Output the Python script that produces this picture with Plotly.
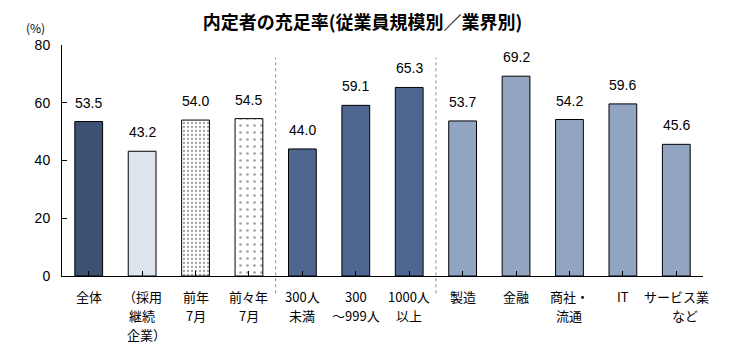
import plotly.graph_objects as go

categories = ["全体", "（採用|継続|企業）", "前年|7月", "前々年|7月", "300人|未満",
              "300|～999人", "1000人|以上", "製造", "金融", "商社・|流通", "IT", "サービス業|など"]
values = [53.5, 43.2, 54.0, 54.5, 44.0, 59.1, 65.3, 53.7, 69.2, 54.2, 59.6, 45.6]
value_labels = ["53.5", "43.2", "54.0", "54.5", "44.0", "59.1", "65.3", "53.7", "69.2", "54.2", "59.6", "45.6"]
y_ticks = [0, 20, 40, 60, 80]

colors = ["#3d5272", "#dde4ed", "#ffffff", "#ffffff", "#4d6790", "#4d6790", "#4d6790",
          "#91a4c1", "#91a4c1", "#91a4c1", "#91a4c1", "#91a4c1"]
shapes_pat = ["", "", ".", ".", "", "", "", "", "", "", "", ""]
pat_sizes = [6, 6, 4, 7, 6, 6, 6, 6, 6, 6, 6, 6]
pat_solid = [0.3, 0.3, 0.25, 0.12, 0.3, 0.3, 0.3, 0.3, 0.3, 0.3, 0.3, 0.3]

x_idx = list(range(len(categories)))
font_family = "Arial, Liberation Sans, Noto Sans CJK JP"
jp_font = "Noto Sans CJK JP"

fig = go.Figure()
fig.add_trace(go.Bar(
    x=x_idx, y=values, width=0.52,
    marker=dict(color=colors, line=dict(color="#000000", width=1),
                pattern=dict(shape=shapes_pat, fgcolor="#6a7fa3", size=pat_sizes,
                             solidity=pat_solid, fillmode="overlay")),
    showlegend=False, hoverinfo="skip",
))

annotations = []
for i, (v, t) in enumerate(zip(values, value_labels)):
    annotations.append(dict(x=i, y=v, xref="x", yref="y", text=t, showarrow=False,
                            yanchor="bottom", yshift=9, font=dict(size=14, color="#000")))

# category labels, one annotation per line to control line spacing
xshift_special = {(1, 2): 4, (11, 1): 9}
for i, lab in enumerate(categories):
    for k, line in enumerate(lab.split("|")):
        annotations.append(dict(x=i, y=0, xref="x", yref="y", text=line, showarrow=False,
                                yanchor="top", yshift=-9 - 19 * k,
                                xshift=xshift_special.get((i, k), 0),
                                font=dict(size=13, color="#000", family=jp_font)))

annotations.append(dict(x=-0.042, y=1.03, xref="paper", yref="paper", text="(%)", showarrow=False,
                        xanchor="center", yanchor="bottom", font=dict(size=12, color="#000", family=jp_font)))

shapes = []
for sx in [3.5, 6.5]:
    shapes.append(dict(type="line", xref="x", yref="paper", x0=sx, x1=sx, y0=-0.075, y1=0.945,
                       line=dict(color="#8a8a8a", width=1, dash="dot")))

fig.update_layout(
    width=740, height=346,
    margin=dict(l=62, r=37, t=45, b=70),
    paper_bgcolor="white", plot_bgcolor="white",
    font=dict(family=font_family, color="#000"),
    title=dict(text="<b>内定者の充足率(従業員規模別／業界別)</b>", x=0.49, xanchor="center",
               y=0.935, yanchor="middle", font=dict(size=18, color="#000", family=jp_font)),
    annotations=annotations, shapes=shapes,
)
fig.update_xaxes(
    tickmode="array", tickvals=x_idx, ticktext=[""] * len(x_idx), range=[-0.5, 11.5],
    showline=True, linecolor="#000", linewidth=1, ticks="inside", tickson="boundaries",
    ticklen=5, tickcolor="#000", showgrid=False, zeroline=False,
)
fig.update_yaxes(
    range=[0, 80], tickvals=y_ticks, showline=True, linecolor="#000", linewidth=1,
    ticks="inside", ticklen=5, tickcolor="#000", tickfont=dict(size=14),
    ticklabelstandoff=8, showgrid=False, zeroline=False,
)
fig.write_html("out.html")
